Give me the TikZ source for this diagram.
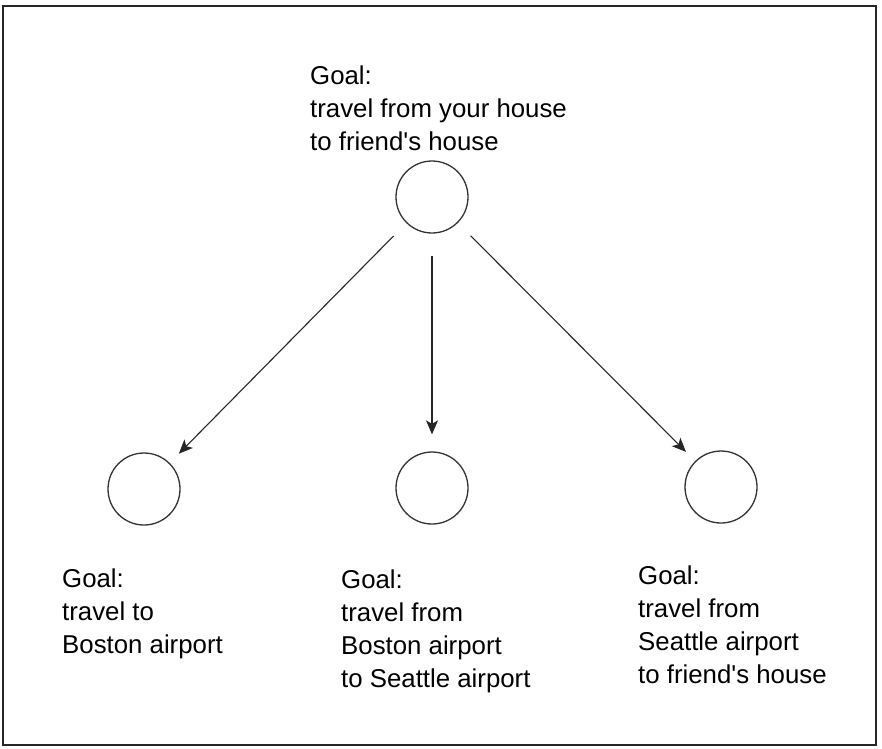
\documentclass[tikz,border=0pt]{standalone}
\usepackage{fontspec}
\setmainfont{Liberation Sans}
\usetikzlibrary{arrows.meta}
\begin{document}
\begin{tikzpicture}[x=1pt,y=-1pt,
  goal/.style={circle,draw=black!80,line width=1.3pt,minimum size=72pt,inner sep=0pt},
  lbl/.style={anchor=north west,inner sep=0pt,align=left,font=\fontsize{25.8}{32.8}\selectfont},
  arr/.style={draw=black!85,line width=1.1pt,-{Stealth[length=14pt,width=12pt,inset=3.5pt]}}]
\useasboundingbox (0,0) rectangle (882,748);
\draw[line width=2pt,black!85] (3,6) rectangle (876,745);
\node[goal] (t) at (432,197) {};
\node[goal] (l) at (144,489) {};
\node[goal] (m) at (432,488) {};
\node[goal] (r) at (721,487) {};
\node[lbl] (tl) at (310,66) {Goal:\\travel from your house\\to friend\textquotesingle s house};
\node[lbl] (ll) at (62,569) {Goal:\\travel to\\Boston airport};
\node[lbl] (ml) at (341,570) {Goal:\\travel from\\Boston airport\\to Seattle airport};
\node[lbl] (rl) at (638,566) {Goal:\\travel from\\Seattle airport\\to friend\textquotesingle s house};
\draw[arr,shorten <=18pt,shorten >=13pt] (t) -- (l);
\draw[arr,shorten <=22pt,shorten >=17pt] (t) -- (m);
\draw[arr,shorten <=18pt,shorten >=13pt] (t) -- (r);
\end{tikzpicture}
\end{document}
